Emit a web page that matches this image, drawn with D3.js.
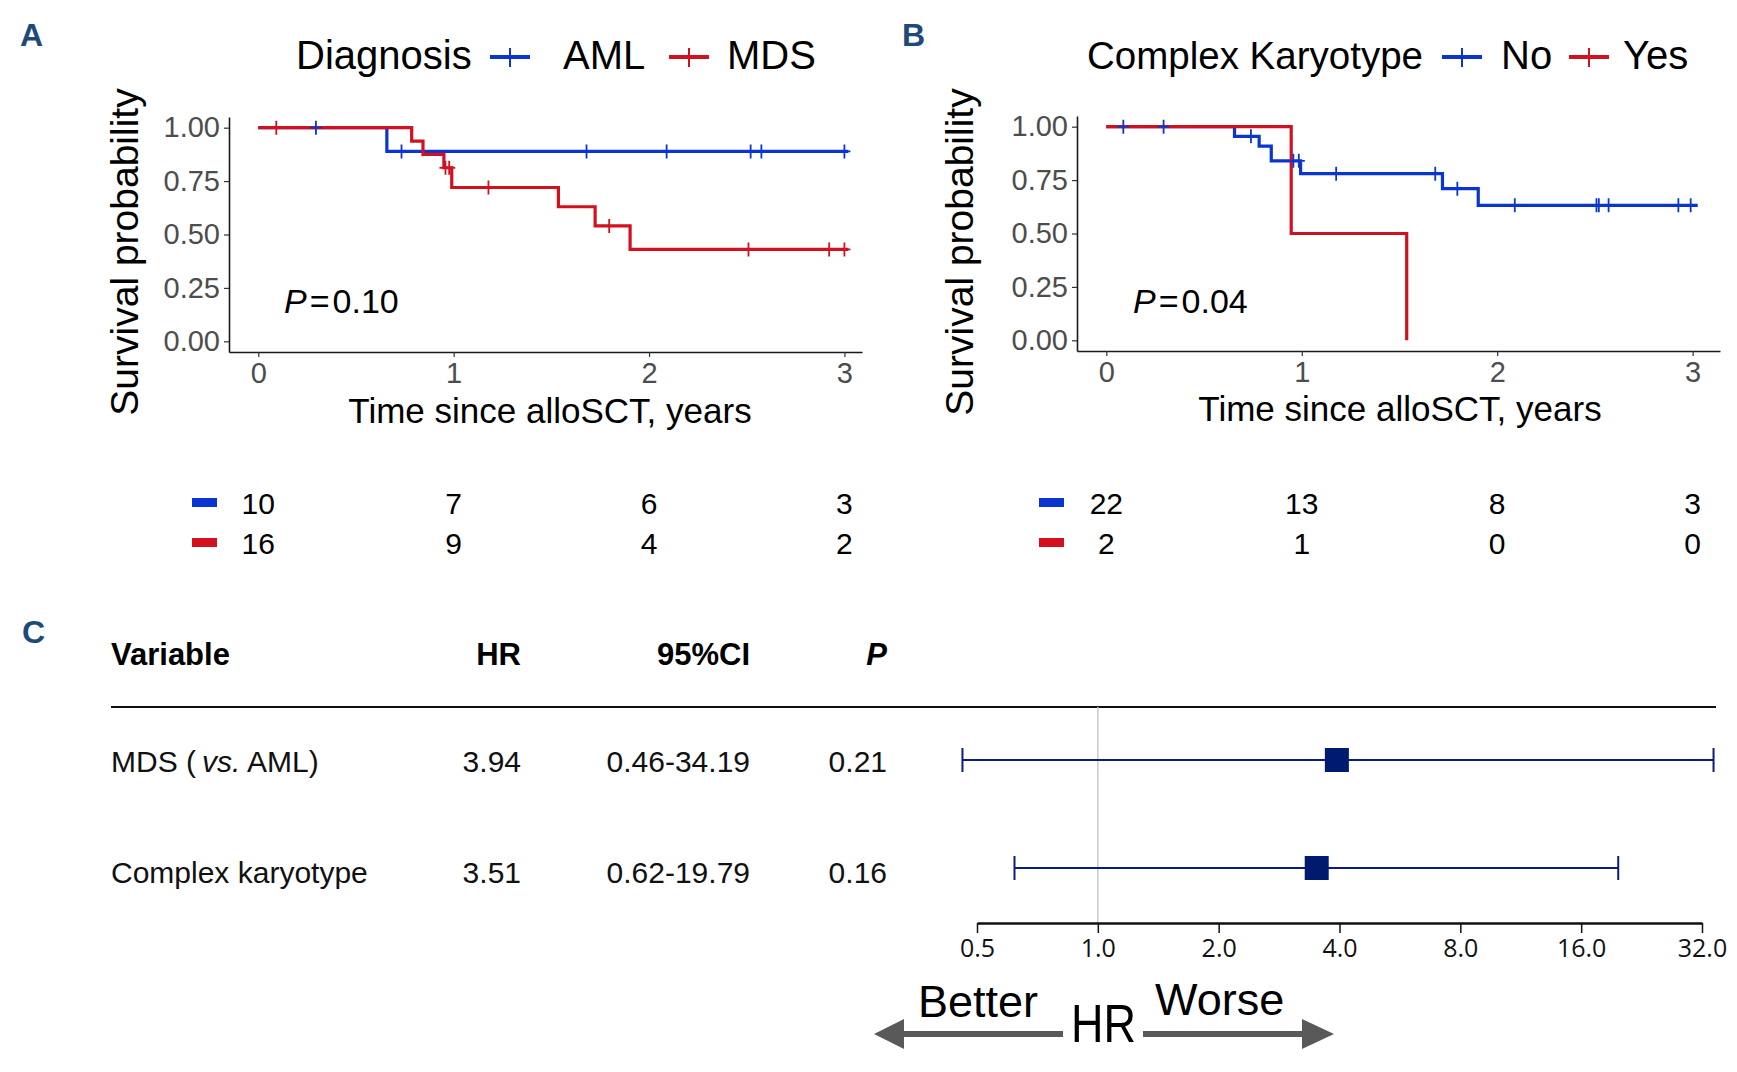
<!DOCTYPE html>
<html>
<head>
<meta charset="utf-8">
<script src="https://cdn.jsdelivr.net/npm/d3@7"></script>
<style>
body { margin: 0; background: #fff; }
text { font-family: "Liberation Sans", Arial, sans-serif; }
</style>
</head>
<body>
<div id="chart"></div>
<script>
var blue = "#0b35d1", red = "#d3111e", navy = "#0b1c7c";

// ---- panel A: diagnosis ----
var timeTicks = [0, 1, 2, 3];
var survTicks = [0, 0.25, 0.5, 0.75, 1];

var amlTimes = [0, 0.658, 3.02];
var amlSurv = [1, 0.889, 0.889];
var amlCensor = [0.295, 0.733, 1.68, 2.09, 2.52, 2.575, 3.0];

var mdsTimes = [0, 0.785, 0.843, 0.95, 0.99, 1.536, 1.724, 1.903, 3.02];
var mdsSurv = [1, 0.9375, 0.875, 0.8125, 0.72, 0.63, 0.54, 0.43, 0.43];
var mdsCensor = [0.092, 0.958, 0.977, 1.178, 1.796, 2.509, 2.922, 3.0];

var riskAml = [10, 7, 6, 3];
var riskMds = [16, 9, 4, 2];

// ---- panel B: complex karyotype ----
var noTimes = [0, 0.656, 0.782, 0.844, 0.994, 1.72, 1.903, 3.026];
var noSurv = [1, 0.955, 0.909, 0.84, 0.78, 0.71, 0.632, 0.632];
var noCensor = [0.087, 0.293, 0.74, 0.957, 0.985, 1.176, 1.683, 1.796, 2.09, 2.508, 2.52, 2.57, 2.927, 2.99];

var yesTimes = [0, 0.946, 1.537];
var yesSurv = [1, 0.5, 0];
var yesCensor = [];

var riskNo = [22, 13, 8, 3];
var riskYes = [2, 1, 0, 0];

// ---- panel C: hazard ratios ----
var variables = ["MDS (vs. AML)", "Complex karyotype"];
var hr = [3.94, 3.51];
var ciLow = [0.46, 0.62];
var ciHigh = [34.19, 19.79];
var pValues = ["0.21", "0.16"];
var hrTicks = [0.5, 1, 2, 4, 8, 16, 32];

var svg = d3.select("#chart").append("svg")
    .attr("width", 1737)
    .attr("height", 1072)
    .style("background", "#fff");

function survAt(times, surv, t) {
  var s = surv[0];
  for (var i = 0; i < times.length; i++) { if (times[i] <= t) s = surv[i]; }
  return s;
}

function drawKM(p) {
  var g = svg.append("g");
  var x = d3.scaleLinear().domain(p.xDomain).range(p.xRange);
  var y = d3.scaleLinear().domain([-0.05, 1.05]).range(p.yRange);

  // axes
  var yAxis = g.append("g")
    .attr("transform", "translate(" + p.xRange[0] + ",0)")
    .call(d3.axisLeft(y).tickValues(survTicks).tickFormat(d3.format(".2f")).tickSize(5).tickPadding(4).tickSizeOuter(0));
  var xAxis = g.append("g")
    .attr("transform", "translate(0," + p.yRange[0] + ")")
    .call(d3.axisBottom(x).tickValues(timeTicks).tickFormat(d3.format("d")).tickSize(5).tickPadding(5).tickSizeOuter(0));
  [yAxis, xAxis].forEach(function(a) {
    a.select(".domain").attr("stroke", "#1a1a1a").attr("stroke-width", 1.6);
    a.selectAll(".tick line").attr("stroke", "#333").attr("stroke-width", 1.2);
    a.selectAll(".tick text").attr("fill", "#4d4d4d").style("font-size", "29px");
  });

  // curves
  var line = d3.line().curve(d3.curveStepAfter)
    .x(function(d) { return x(d[0]); })
    .y(function(d) { return y(d[1]); });
  p.series.forEach(function(s) {
    g.append("path")
      .datum(d3.zip(s.times, s.surv))
      .attr("fill", "none")
      .attr("stroke", s.color)
      .attr("stroke-width", 3.2)
      .attr("d", line);
  });
  p.series.forEach(function(s) {
    g.selectAll(null).data(s.censor).enter().append("path")
      .attr("fill", "none")
      .attr("stroke", s.color)
      .attr("stroke-width", 1.8)
      .attr("d", function(t) {
        var cx = x(t), cy = y(survAt(s.times, s.surv, t));
        return "M" + (cx - 6) + "," + cy + "h12M" + cx + "," + (cy - 7) + "v14";
      });
  });

  // titles
  g.append("text")
    .attr("transform", "translate(" + p.yTitleX + ",252) rotate(-90)")
    .attr("text-anchor", "middle")
    .style("font-size", "39px")
    .text("Survival probability");
  g.append("text")
    .attr("x", p.xTitleX).attr("y", p.xTitleY)
    .attr("text-anchor", "middle")
    .style("font-size", "35px")
    .text("Time since alloSCT, years");

  var pt = g.append("text").attr("x", p.pX).attr("y", 313).style("font-size", "34px");
  pt.append("tspan").style("font-style", "italic").text("P");
  pt.append("tspan").attr("dx", 3).text("=");
  pt.append("tspan").attr("dx", 3).text(p.pText);

  // legend
  g.append("text").attr("x", p.legTitleX).attr("y", 69).style("font-size", p.legTitleSize).text(p.legTitle);
  p.series.forEach(function(s, i) {
    var kx = p.legKeyX[i];
    g.append("line").attr("x1", kx).attr("x2", kx + 40).attr("y1", 57).attr("y2", 57)
      .attr("stroke", s.color).attr("stroke-width", 4);
    g.append("line").attr("x1", kx + 20).attr("x2", kx + 20).attr("y1", 48).attr("y2", 67)
      .attr("stroke", s.color).attr("stroke-width", 2);
    g.append("text").attr("x", p.legTextX[i]).attr("y", 69).style("font-size", "40px").text(s.name);
  });

  // numbers at risk
  p.series.forEach(function(s, i) {
    var ry = [503, 543][i];
    g.append("rect").attr("x", p.dashX).attr("y", ry - 5).attr("width", 25).attr("height", 9)
      .attr("fill", s.color);
    g.selectAll(null).data(s.risk).enter().append("text")
      .attr("x", function(d, j) { return x(timeTicks[j]); })
      .attr("y", ry)
      .attr("dy", "0.36em")
      .attr("text-anchor", "middle")
      .style("font-size", "30px")
      .text(function(d) { return d; });
  });
}

drawKM({
  xDomain: [-0.15, 3.09], xRange: [229, 862], yRange: [352, 117],
  yTitleX: 138, xTitleX: 550, xTitleY: 423, pX: 284, pText: "0.10",
  legTitle: "Diagnosis", legTitleSize: "40px", legTitleX: 296, legKeyX: [490, 669], legTextX: [563, 727],
  dashX: 192,
  series: [
    {name: "AML", color: blue, times: amlTimes, surv: amlSurv, censor: amlCensor, risk: riskAml},
    {name: "MDS", color: red, times: mdsTimes, surv: mdsSurv, censor: mdsCensor, risk: riskMds}
  ]
});

drawKM({
  xDomain: [-0.15, 3.14], xRange: [1077, 1720], yRange: [351, 116],
  yTitleX: 973, xTitleX: 1400, xTitleY: 421, pX: 1133, pText: "0.04",
  legTitle: "Complex Karyotype", legTitleSize: "38.5px", legTitleX: 1087, legKeyX: [1442, 1569], legTextX: [1501, 1623],
  dashX: 1039,
  series: [
    {name: "No", color: blue, times: noTimes, surv: noSurv, censor: noCensor, risk: riskNo},
    {name: "Yes", color: red, times: yesTimes, surv: yesSurv, censor: yesCensor, risk: riskYes}
  ]
});

// panel letters
[["A", 20, 46], ["B", 902, 46], ["C", 22, 643]].forEach(function(l) {
  svg.append("text").attr("x", l[1]).attr("y", l[2])
    .style("font-size", "32px").style("font-weight", "bold").attr("fill", "#1d4a7a")
    .text(l[0]);
});

// ---- forest table ----
var fc = svg.append("g");
var headY = 665, rowY = [772, 883], lineY = [760, 868];
fc.append("text").attr("x", 111).attr("y", headY).style("font-size", "31px").style("font-weight", "bold").text("Variable");
fc.append("text").attr("x", 521).attr("y", headY).attr("text-anchor", "end").style("font-size", "31px").style("font-weight", "bold").text("HR");
fc.append("text").attr("x", 750).attr("y", headY).attr("text-anchor", "end").style("font-size", "31px").style("font-weight", "bold").text("95%CI");
fc.append("text").attr("x", 887).attr("y", headY).attr("text-anchor", "end").style("font-size", "31px").style("font-weight", "bold").style("font-style", "italic").text("P");
fc.append("line").attr("x1", 111).attr("x2", 1716).attr("y1", 707).attr("y2", 707).attr("stroke", "#111").attr("stroke-width", 2);

variables.forEach(function(v, i) {
  var t = fc.append("text").attr("x", 111).attr("y", rowY[i]).style("font-size", "30px").attr("fill", "#111");
  if (v.indexOf("vs.") >= 0) {
    t.append("tspan").text("MDS (");
    t.append("tspan").attr("dx", 6).style("font-style", "italic").text("vs.");
    t.append("tspan").text(" AML)");
  } else {
    t.text(v);
  }
  fc.append("text").attr("x", 521).attr("y", rowY[i]).attr("text-anchor", "end").style("font-size", "30px").attr("fill", "#111").text(hr[i].toFixed(2));
  fc.append("text").attr("x", 750).attr("y", rowY[i]).attr("text-anchor", "end").style("font-size", "30px").attr("fill", "#111").text(ciLow[i].toFixed(2) + "-" + ciHigh[i].toFixed(2));
  fc.append("text").attr("x", 887).attr("y", rowY[i]).attr("text-anchor", "end").style("font-size", "30px").attr("fill", "#111").text(pValues[i]);
});

var hx = d3.scaleLog().base(2).domain([0.5, 32]).range([977, 1702]);

fc.append("line").attr("x1", hx(1)).attr("x2", hx(1)).attr("y1", 707).attr("y2", 923)
  .attr("stroke", "#c8c8c8").attr("stroke-width", 1.5);

var hAxis = fc.append("g").attr("transform", "translate(0,923)")
  .call(d3.axisBottom(hx).tickValues(hrTicks).tickFormat(d3.format(".1f")).tickSize(10).tickPadding(6).tickSizeOuter(0));
hAxis.select(".domain").attr("stroke", "#111").attr("stroke-width", 2.6);
hAxis.selectAll(".tick line").attr("stroke", "#111").attr("stroke-width", 1.5);
hAxis.selectAll(".tick text").attr("fill", "#111").style("font-family", "'Open Sans', sans-serif").style("font-size", "25px");

hr.forEach(function(h, i) {
  var cy = lineY[i];
  fc.append("line").attr("x1", hx(ciLow[i])).attr("x2", hx(ciHigh[i])).attr("y1", cy).attr("y2", cy)
    .attr("stroke", navy).attr("stroke-width", 2);
  [ciLow[i], ciHigh[i]].forEach(function(c) {
    fc.append("line").attr("x1", hx(c)).attr("x2", hx(c)).attr("y1", cy - 12).attr("y2", cy + 12)
      .attr("stroke", navy).attr("stroke-width", 2);
  });
  fc.append("rect").attr("x", hx(h) - 12).attr("y", cy - 12).attr("width", 24).attr("height", 24)
    .attr("fill", "#001a70");
});

// better / worse arrows
var ag = svg.append("g").attr("fill", "#595959");
ag.append("rect").attr("x", 900).attr("y", 1031).attr("width", 163).attr("height", 6);
ag.append("path").attr("d", "M874,1034L904,1019L904,1049Z");
ag.append("rect").attr("x", 1143).attr("y", 1031).attr("width", 160).attr("height", 6);
ag.append("path").attr("d", "M1334,1034L1302,1019L1302,1049Z");
svg.append("text").attr("x", 918).attr("y", 1017).style("font-size", "45px").text("Better");
svg.append("text").attr("x", 1155).attr("y", 1015).style("font-size", "45px").text("Worse");
svg.append("text").attr("x", 1071).attr("y", 1042).style("font-size", "54px")
  .attr("textLength", 65).attr("lengthAdjust", "spacingAndGlyphs").text("HR");
</script>
</body>
</html>
